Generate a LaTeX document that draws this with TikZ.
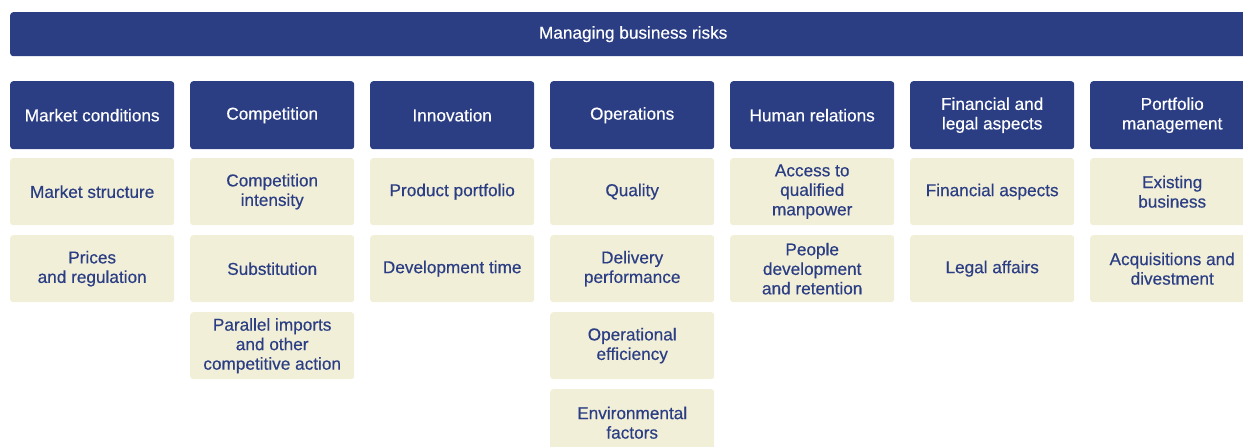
\documentclass[tikz,border=0pt]{standalone}
\usepackage{fontspec}
\setmainfont{Liberation Sans}[FakeBold=0.45]
\definecolor{navy}{HTML}{2B3E84}
\definecolor{cream}{HTML}{F2EFD8}
\begin{document}
\begin{tikzpicture}[x=1pt,y=-1pt,
  base/.style={rounded corners=3pt, minimum width=164pt, align=center,
    inner sep=0pt, anchor=north west, font=\fontsize{17.2}{19.5}\selectfont},
  head/.style={base, fill=navy, text=white, minimum height=68pt},
  item/.style={base, fill=cream, text=navy, minimum height=67pt}]
\useasboundingbox (0,0) rectangle (1243,447);
\clip (0,0) rectangle (1243,447);
% title bar
\node[base, fill=navy, text=white, minimum width=1246pt, minimum height=44pt] (top) at (10,12) {Managing business risks};
% column headers
\node[head] (h1) at (10,81)   {Market conditions};
\node[head] (h2) at (190,81)  {Competition};
\node[head] (h3) at (370,81)  {Innovation};
\node[head] (h4) at (550,81)  {Operations};
\node[head] (h5) at (730,81)  {Human relations};
\node[head] (h6) at (910,81)  {Financial and\\legal aspects};
\node[head] (h7) at (1090,81) {Portfolio\\management};
% risk items
\node[item] (a1) at (10,158)  {Market structure};
\node[item] (a2) at (10,235)  {Prices\\and regulation};
\node[item] (b1) at (190,158) {Competition\\intensity};
\node[item] (b2) at (190,235) {Substitution};
\node[item] (b3) at (190,312) {Parallel imports\\and other\\competitive action};
\node[item] (c1) at (370,158) {Product portfolio};
\node[item] (c2) at (370,235) {Development time};
\node[item] (d1) at (550,158) {Quality};
\node[item] (d2) at (550,235) {Delivery\\performance};
\node[item] (d3) at (550,312) {Operational\\efficiency};
\node[item] (d4) at (550,389) {Environmental\\factors};
\node[item] (e1) at (730,158) {Access to\\qualified\\manpower};
\node[item] (e2) at (730,235) {People\\development\\and retention};
\node[item] (f1) at (910,158) {Financial aspects};
\node[item] (f2) at (910,235) {Legal affairs};
\node[item] (g1) at (1090,158) {Existing\\business};
\node[item] (g2) at (1090,235) {Acquisitions and\\divestment};
\end{tikzpicture}
\end{document}
